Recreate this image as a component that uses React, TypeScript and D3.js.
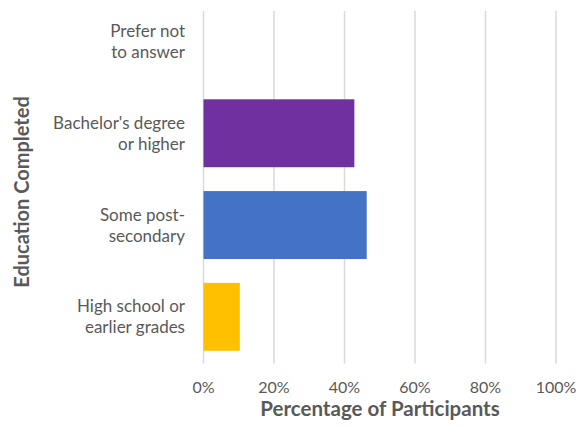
import React from "react";
import * as d3 from "d3";

// Education levels, listed top to bottom
const categories: string[] = [
  "Prefer not to answer",
  "Bachelor's degree or higher",
  "Some post-secondary",
  "High school or earlier grades",
];
const categoryLines: string[][] = [
  ["Prefer not", "to answer"],
  ["Bachelor's degree", "or higher"],
  ["Some post-", "secondary"],
  ["High school or", "earlier grades"],
];
const percentages: number[] = [0, 42.8, 46.3, 10.3];
const barColors: string[] = ["#A5A5A5", "#7030A0", "#4472C4", "#FFC000"];
const xTicks: number[] = [0, 20, 40, 60, 80, 100];

const W = 583;
const H = 427;
const FONT = "Lato, 'Open Sans', sans-serif";
const TEXT = "#595959";

export default function App() {
  const x = d3.scaleLinear().domain([0, 100]).range([203.5, 556]);
  const y = d3
    .scaleBand<string>()
    .domain(categories)
    .range([-4.4, 362.7])
    .paddingInner(0.26)
    .paddingOuter(0.13);
  const gridTop = 11;
  const gridBottom = 363.5;

  return (
    <svg
      width={W}
      height={H}
      style={{ position: "absolute", left: 0, top: 0, background: "#fff" }}
      fontFamily={FONT}
    >
      {/* vertical gridlines */}
      {xTicks.map((t) => (
        <line
          key={t}
          x1={x(t)}
          x2={x(t)}
          y1={gridTop}
          y2={gridBottom}
          stroke="#D9D9D9"
          strokeWidth={1.5}
        />
      ))}
      {/* bars */}
      {categories.map((c, i) =>
        percentages[i] > 0 ? (
          <rect
            key={c}
            x={x(0)}
            y={y(c)!}
            width={x(percentages[i]) - x(0)}
            height={y.bandwidth()}
            fill={barColors[i]}
          />
        ) : null
      )}
      {/* category labels */}
      {categories.map((c, i) => {
        const cy = y(c)! + y.bandwidth() / 2;
        return (
          <text
            key={c}
            x={185}
            textAnchor="end"
            fontSize={17}
            fill={TEXT}
          >
            {categoryLines[i].map((line, j) => (
              <tspan key={j} x={185} y={cy - 4.5 + j * 21}>
                {line}
              </tspan>
            ))}
          </text>
        );
      })}
      {/* x tick labels */}
      {xTicks.map((t) => (
        <text
          key={t}
          x={x(t)}
          y={393}
          textAnchor="middle"
          fontSize={16}
          fill={TEXT}
        >
          {`${t}%`}
        </text>
      ))}
      {/* axis titles */}
      <text
        x={380}
        y={416}
        textAnchor="middle"
        fontSize={20.5}
        fontWeight="bold"
        fill={TEXT}
      >
        Percentage of Participants
      </text>
      <text
        transform={`translate(29,192) rotate(-90)`}
        textAnchor="middle"
        fontSize={20}
        fontWeight="bold"
        fill={TEXT}
      >
        Education Completed
      </text>
    </svg>
  );
}
